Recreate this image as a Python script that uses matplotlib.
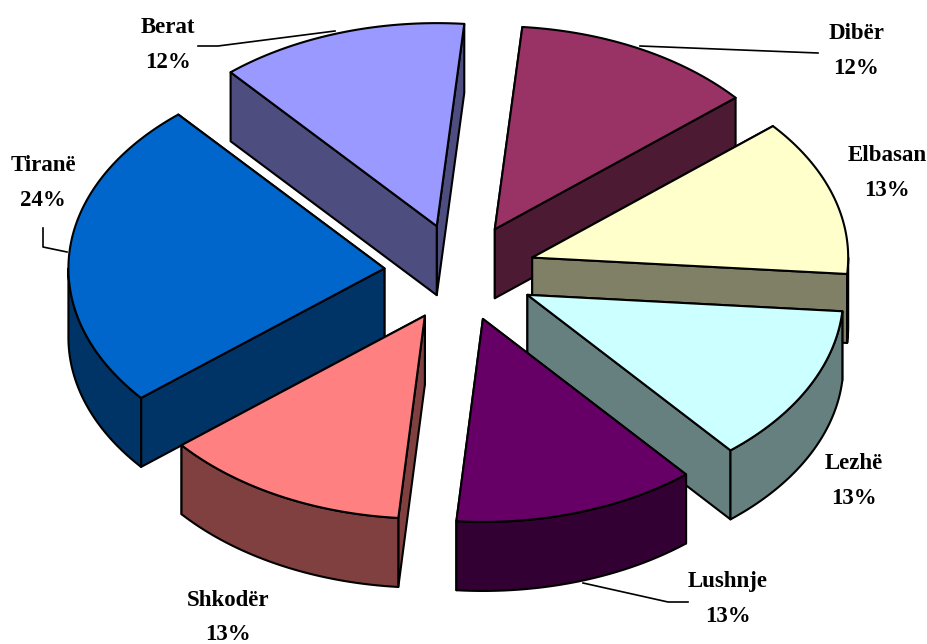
import numpy as np
import matplotlib
matplotlib.use("Agg")
import matplotlib.pyplot as plt
from matplotlib.patches import Polygon

categories = ["Dibër", "Elbasan", "Lezhë", "Lushnje", "Shkodër", "Tiranë", "Berat"]
shares = [12.4, 12.5, 12.6, 12.45, 12.65, 24.7, 12.7]
percent_labels = ["12%", "13%", "13%", "13%", "13%", "24%", "12%"]
top_colors = ["#993366", "#FFFFCC", "#CCFFFF", "#660066", "#FF8080", "#0066CC", "#9999FF"]
side_colors = ["#4D1A33", "#808066", "#668080", "#330033", "#804040", "#003366", "#4D4D80"]
label_xy = [(856, 33), (887, 155), (854, 463), (728, 582), (228, 600), (43, 165), (168, 27)]
leaders = {"Dibër": [(640, 46), (818, 53)], "Lushnje": [(583, 583), (668, 602), (688, 602)],
           "Tiranë": [(43, 228), (43, 247), (67, 252)], "Berat": [(198, 46), (218, 46), (335, 31)]}

CX, CY, A, B, DEPTH, EXPLODE, START = 460, 272.5, 316, 203, 69, 0.24, 85.0

plt.rcParams["font.family"] = ["Liberation Serif", "DejaVu Serif"]
fig = plt.figure(figsize=(9.28, 6.44), dpi=100)
ax = fig.add_axes([0, 0, 1, 1])
ax.set_xlim(0, 928)
ax.set_ylim(644, 0)
ax.axis("off")


def rim(apex, t0, t1):
    t = np.radians(np.linspace(t0, t1, max(int(abs(t1 - t0)) * 2, 2)))
    return np.column_stack([apex[0] + A * np.cos(t), apex[1] - B * np.sin(t)])


def wall(top_edge):
    low = top_edge[::-1] + np.array([0, DEPTH])
    return np.vstack([top_edge, low])


edges = START - np.cumsum([0] + [s / sum(shares) * 360 for s in shares])
slices = []
for i in range(len(shares)):
    t0, t1 = edges[i + 1], edges[i]
    mid = np.radians((t0 + t1) / 2)
    apex = np.array([CX + EXPLODE * A * np.cos(mid), CY - EXPLODE * B * np.sin(mid)])
    slices.append((apex[1], i, apex, t0, t1))

for order, (_, i, apex, t0, t1) in enumerate(sorted(slices, key=lambda s: s[0])):
    z = 2 + order
    arc = rim(apex, t0, t1)
    walls = [np.vstack([apex, arc[0]]), np.vstack([apex, arc[-1]])]
    # front part of the outer rim: where the ellipse faces the viewer
    k = np.floor(t0 / 360)
    lo, hi = 360 * k + 180, 360 * k + 360
    a, b = max(t0, lo), min(t1, hi)
    if b > a:
        walls.append(rim(apex, a, b))
    walls.sort(key=lambda w: w[:, 1].mean())
    for w in walls:
        ax.add_patch(Polygon(wall(w), closed=True, fc=side_colors[i], ec="black", lw=1.5, zorder=z, joinstyle="round"))
    ax.add_patch(Polygon(np.vstack([apex, arc]), closed=True, fc=top_colors[i], ec="black", lw=1.5, zorder=z, joinstyle="round"))

for name, pts in leaders.items():
    xs, ys = zip(*pts)
    ax.plot(xs, ys, color="black", lw=1.2, zorder=1)

for name, pct, (x, y) in zip(categories, percent_labels, label_xy):
    ax.text(x, y, name, ha="center", va="center", fontsize=16.5, fontweight="bold", color="black", zorder=40)
    ax.text(x, y + 35, pct, ha="center", va="center", fontsize=16.5, fontweight="bold", color="black", zorder=40)

fig.savefig("out.png", dpi=100)
